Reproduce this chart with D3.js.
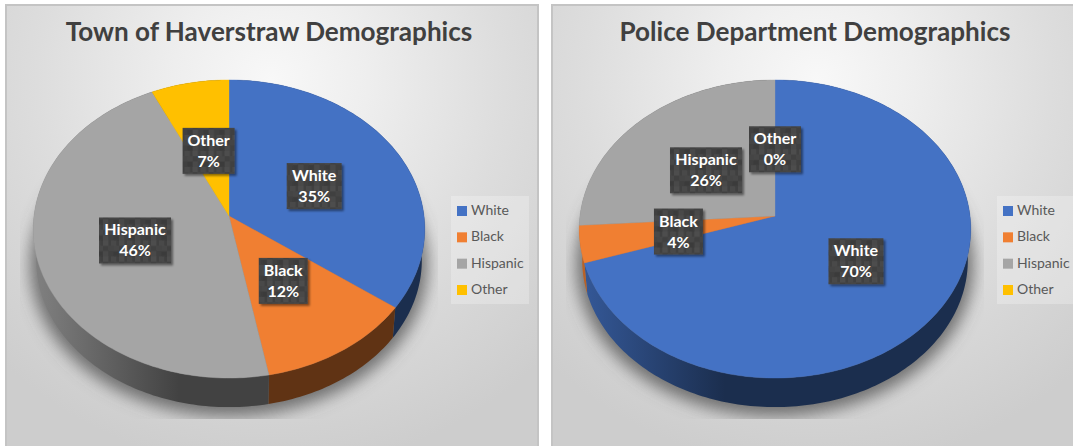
<!DOCTYPE html>
<html>
<head>
<meta charset="utf-8">
<style>
  html, body { margin: 0; padding: 0; background: #fff; overflow: hidden; }
  svg { display: block; }
</style>
<script src="https://cdn.jsdelivr.net/npm/d3@7"></script>
</head>
<body>
<svg id="chart" width="1073" height="446"></svg>
<script>
// Category names and the two demographic breakdowns (percent)
const categories = ["White", "Black", "Hispanic", "Other"];
const townValues = [35, 12, 46, 7];
const policeValues = [70, 4, 26, 0];
const townTitle = "Town of Haverstraw Demographics";
const policeTitle = "Police Department Demographics";
const sliceColors = ["#4472c4", "#f07f32", "#a5a5a5", "#ffc000"];

const FONT = "Lato, Carlito, 'Open Sans', sans-serif";
const svg = d3.select("#chart");
const defs = svg.append("defs");

const color = d3.scaleOrdinal().domain(categories).range(sliceColors);
const pieLayout = d3.pie().sort(null).value(d => d.value);

// Tilted-disc projection: the near edge reads larger than the far edge
const CX = 223, CY = 211;        // apex, in panel coordinates
const RX = 195, RY = 147.9, PERSP = 0.0873;
const WALL_SCALE = 0.985, WALL_DROP = 31.5;

function project(angle, frac = 1, scale = 1, drop = 0) {
  const across = Math.sin(angle) * frac;
  const toward = -Math.cos(angle) * frac;
  const w = 1 - PERSP * toward;
  return [CX + scale * RX * across / w, CY + scale * RY * toward / w + drop];
}

const line = d3.line();
function arcPoints(a0, a1, scale = 1, drop = 0) {
  const n = Math.max(2, Math.ceil((a1 - a0) / 0.02));
  return d3.range(n + 1).map(i => project(a0 + (a1 - a0) * i / n, 1, scale, drop));
}

// Panel background shared by both charts
const bg = defs.append("radialGradient").attr("id", "panelBg")
  .attr("gradientUnits", "userSpaceOnUse")
  .attr("cx", 265).attr("cy", 75).attr("r", 390);
[[0, "#f8f8f8"], [0.25, "#eeeeee"], [0.6, "#dddddd"], [1, "#cdcdcd"]]
  .forEach(([o, c]) => bg.append("stop").attr("offset", o).attr("stop-color", c));

const blur = defs.append("filter").attr("id", "pieShadow")
  .attr("x", "-20%").attr("y", "-20%").attr("width", "140%").attr("height", "140%");
blur.append("feGaussianBlur").attr("stdDeviation", 8);

const boxShadow = defs.append("filter").attr("id", "boxShadow")
  .attr("x", "-20%").attr("y", "-20%").attr("width", "150%").attr("height", "150%");
boxShadow.append("feDropShadow").attr("dx", 2).attr("dy", 2).attr("stdDeviation", 1.3)
  .attr("flood-color", "#000").attr("flood-opacity", 0.45);

// Mottled fill for the data label boxes
const tile = defs.append("pattern").attr("id", "labelFill")
  .attr("patternUnits", "userSpaceOnUse").attr("width", 16).attr("height", 16);
tile.append("rect").attr("width", 16).attr("height", 16).attr("fill", "#404040");
[[0, 0, "#4e4e4e"], [8, 0, "#4a4a4a"], [5.3, 5.3, "#454545"], [10.6, 10.6, "#3b3b3b"], [0, 10.6, "#494949"], [10.6, 5.3, "#474747"]]
  .forEach(([x, y, c]) => tile.append("rect")
    .attr("x", x).attr("y", y).attr("width", 5.3).attr("height", 5.3).attr("fill", c));

defs.append("clipPath").attr("id", "shadowClip").append("rect")
  .attr("x", 14).attr("y", 75).attr("width", 418).attr("height", 339);

function drawPanel(id, offsetX, title, values) {
  const g = svg.append("g").attr("transform", `translate(${offsetX},5)`);
  const rows = categories.map((name, i) => ({ name, value: values[i] }));
  const arcs = pieLayout(rows);

  g.append("rect").attr("width", 532).attr("height", 460)
    .attr("fill", "url(#panelBg)").attr("stroke", "#c4c4c4").attr("stroke-width", 2);

  g.append("text").attr("x", 263).attr("y", 36).attr("text-anchor", "middle")
    .attr("font-family", FONT).attr("font-weight", 700).attr("font-size", 26.1)
    .attr("fill", "#404040").text(title);

  // Soft cast shadow below the disc, cut off by the plot area
  g.append("g").attr("clip-path", "url(#shadowClip)")
    .append("path")
    .attr("d", line(arcPoints(0, 2 * Math.PI, 1.015, WALL_DROP + 4)) + "Z")
    .attr("fill", "#555555").attr("fill-opacity", 0.8)
    .attr("filter", "url(#pieShadow)");

  // Side walls, shaded from lit on the left to dark toward the front
  arcs.filter(d => d.value > 0).forEach((d, i) => {
    const base = d3.rgb(color(d.data.name));
    const gradId = `${id}-wall-${i}`;
    const grad = defs.append("linearGradient").attr("id", gradId)
      .attr("gradientUnits", "userSpaceOnUse")
      .attr("x1", CX - RX).attr("x2", CX - 50).attr("y1", 0).attr("y2", 0);
    [[0, 0.78], [1, 0.4]].forEach(([o, k]) => grad.append("stop").attr("offset", o)
      .attr("stop-color", d3.rgb(base.r * k, base.g * k, base.b * k)));
    const top = arcPoints(d.startAngle, d.endAngle);
    const bottom = arcPoints(d.startAngle, d.endAngle, WALL_SCALE, WALL_DROP).reverse();
    g.append("path").attr("d", line(top.concat(bottom)) + "Z").attr("fill", `url(#${gradId})`);
  });

  // Top faces
  arcs.filter(d => d.value > 0).forEach(d => {
    const pts = [[CX, CY]].concat(arcPoints(d.startAngle, d.endAngle));
    g.append("path").attr("d", line(pts) + "Z").attr("fill", color(d.data.name))
      .attr("stroke", color(d.data.name)).attr("stroke-width", 0.4);
  });

  // Data labels sit halfway along each slice's mid-angle
  arcs.forEach(d => {
    const mid = (d.startAngle + d.endAngle) / 2;
    const [x, y] = project(mid, 0.5);
    const labelY = y + 2 - 0.03 * (y - CY);
    const lab = g.append("g").attr("transform", `translate(${x},${labelY})`);
    const box = lab.append("rect").attr("fill", "url(#labelFill)").attr("filter", "url(#boxShadow)");
    const text = lab.append("text").attr("text-anchor", "middle")
      .attr("font-family", FONT).attr("font-weight", 700).attr("font-size", 16)
      .attr("fill", "#ffffff");
    text.append("tspan").attr("x", 0).attr("y", -5).text(d.data.name);
    text.append("tspan").attr("x", 0).attr("y", 16).text(d.value + "%");
    const w = Math.round(text.node().getBBox().width) + 10;
    box.attr("x", -w / 2).attr("y", -23).attr("width", w).attr("height", 46);
  });

  // Legend
  const legend = g.append("g");
  legend.append("rect").attr("x", 445).attr("y", 191).attr("width", 78).attr("height", 108)
    .attr("fill", "#ffffff").attr("fill-opacity", 0.25);
  const legendY = d3.scalePoint().domain(categories).range([206, 285]);
  categories.forEach(name => {
    legend.append("rect").attr("x", 451).attr("y", legendY(name) - 5)
      .attr("width", 10).attr("height", 10).attr("fill", color(name));
    legend.append("text").attr("x", 465).attr("y", legendY(name) + 4)
      .attr("font-family", FONT).attr("font-size", 14).attr("fill", "#595959").text(name);
  });
}

drawPanel("town", 6, townTitle, townValues);
drawPanel("police", 552, policeTitle, policeValues);
</script>
</body>
</html>
